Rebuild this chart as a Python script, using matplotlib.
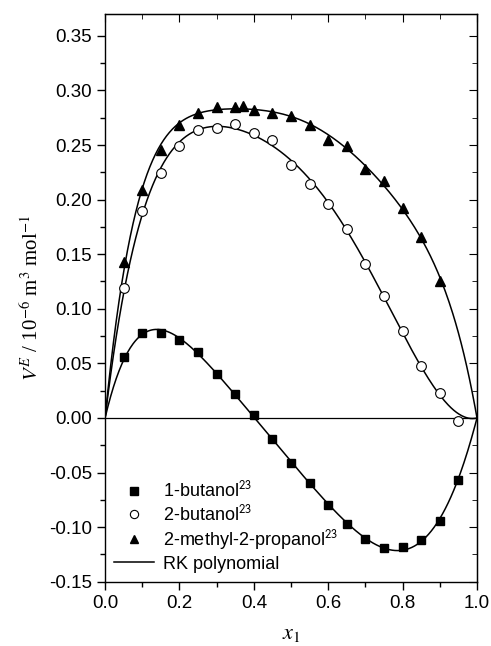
import numpy as np
import matplotlib
matplotlib.use("Agg")
import matplotlib.pyplot as plt

# 1-butanol (squares)
x_1but = [0.05, 0.10, 0.15, 0.20, 0.25, 0.30, 0.35, 0.40, 0.45, 0.50,
          0.55, 0.60, 0.65, 0.70, 0.75, 0.80, 0.85, 0.90, 0.95]
v_1but = [0.056, 0.078, 0.078, 0.071, 0.060, 0.040, 0.022, 0.003, -0.019, -0.041,
          -0.060, -0.080, -0.097, -0.111, -0.119, -0.118, -0.112, -0.094, -0.057]
# 2-butanol (open circles)
x_2but = [0.05, 0.10, 0.15, 0.20, 0.25, 0.30, 0.35, 0.40, 0.45, 0.50,
          0.55, 0.60, 0.65, 0.70, 0.75, 0.80, 0.85, 0.90, 0.95]
v_2but = [0.119, 0.190, 0.224, 0.249, 0.264, 0.266, 0.269, 0.261, 0.255, 0.232,
          0.214, 0.196, 0.173, 0.141, 0.112, 0.080, 0.048, 0.023, -0.003]
# 2-methyl-2-propanol (triangles)
x_tbu = [0.05, 0.10, 0.15, 0.20, 0.25, 0.30, 0.35, 0.37, 0.40, 0.45,
         0.50, 0.55, 0.60, 0.65, 0.70, 0.75, 0.80, 0.85, 0.90]
v_tbu = [0.143, 0.209, 0.245, 0.268, 0.279, 0.285, 0.285, 0.286, 0.282, 0.279,
         0.277, 0.268, 0.255, 0.249, 0.228, 0.217, 0.192, 0.166, 0.125]

etiquetas = [r"1-butanol$^{\mathsf{23}}$", r"2-butanol$^{\mathsf{23}}$",
             r"2-methyl-2-propanol$^{\mathsf{23}}$"]


def rk_fit(x, v, nterm=5):
    # ajuste Redlich-Kister aos pontos lidos
    x = np.asarray(x); v = np.asarray(v)
    M = np.column_stack([x * (1 - x) * (2 * x - 1) ** k for k in range(nterm)])
    A, *_ = np.linalg.lstsq(M, v, rcond=None)
    xx = np.linspace(0, 1, 400)
    Mx = np.column_stack([xx * (1 - xx) * (2 * xx - 1) ** k for k in range(nterm)])
    return xx, Mx @ A


plt.rcParams["mathtext.fontset"] = "stix"
plt.rcParams["font.family"] = "Liberation Sans"

fig = plt.figure(figsize=(4.91, 6.46), dpi=100)
ax = fig.add_axes([0.214, 0.0995, 0.7575, 0.8788])

ax.axhline(0, color="black", lw=0.9)
for x, v in [(x_1but, v_1but), (x_2but, v_2but), (x_tbu, v_tbu)]:
    xx, yy = rk_fit(x, v)
    ax.plot(xx, yy, color="black", lw=1.1)

ax.plot(x_1but, v_1but, "s", color="black", ms=6.3, ls="none", label=etiquetas[0])
ax.plot(x_2but, v_2but, "o", mfc="white", mec="black", mew=0.8, ms=7, ls="none",
        label=etiquetas[1])
ax.plot(x_tbu, v_tbu, "^", color="black", ms=7.5, ls="none", label=etiquetas[2])
ax.plot([], [], color="black", lw=1.1, label="RK polynomial")

ax.set_xlim(0, 1.0)
ax.set_ylim(-0.15, 0.37)
ax.set_xticks(np.arange(0, 1.01, 0.2))
ax.set_xticks(np.arange(0.1, 1.0, 0.2), minor=True)
ax.set_yticks(np.arange(-0.15, 0.351, 0.05))
ax.set_yticks(np.arange(-0.125, 0.37, 0.05), minor=True)
ax.set_xticklabels([f"{t:.1f}" for t in np.arange(0, 1.01, 0.2)])
ax.set_yticklabels([f"{t:.2f}".replace("-0.00", "0.00") for t in np.arange(-0.15, 0.351, 0.05)])
ax.tick_params(which="both", direction="out", labelsize=13.5, width=1)
ax.tick_params(which="major", length=6)
ax.tick_params(which="minor", length=3.5)
for s in ax.spines.values():
    s.set_linewidth(1)

top = ax.secondary_xaxis("top")
top.set_xticks(np.arange(0, 1.01, 0.2))
top.set_xticks(np.arange(0.1, 1.0, 0.2), minor=True)
top.tick_params(which="both", direction="in", labeltop=False)
top.tick_params(which="major", length=6)
top.tick_params(which="minor", length=3.5)
right = ax.secondary_yaxis("right")
right.set_yticks(np.arange(-0.15, 0.351, 0.05))
right.set_yticks(np.arange(-0.125, 0.37, 0.05), minor=True)
right.tick_params(which="both", direction="in", labelright=False)
right.tick_params(which="major", length=6)
right.tick_params(which="minor", length=3.5)

ax.set_xlabel("$x_1$", fontsize=16, labelpad=8)
ax.set_ylabel("$V^E$ / 10$^{-6}$ m$^3$ mol$^{-1}$", fontsize=15,
              family="Liberation Serif", labelpad=4)

ax.legend(loc="lower left", frameon=False, fontsize=13, handlelength=2.2,
          labelspacing=0.2, borderaxespad=0.2, handletextpad=0.5,
          markerscale=0.85, borderpad=0.3)

plt.savefig("out.png", dpi=100)
plt.close()
